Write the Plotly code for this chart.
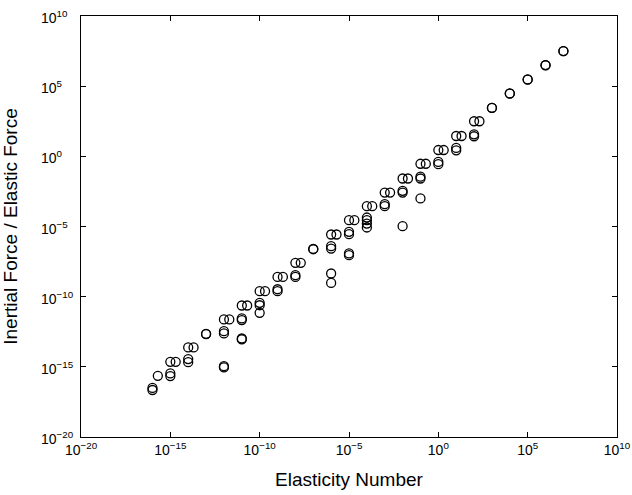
import plotly.graph_objects as go

# Exponents (log10)
x_exp = [
    -16, -16, -15.7,
    -15, -14.7, -15, -15,
    -14, -13.7, -14, -14,
    -13, -13,
    -12, -11.7, -12, -12, -12, -12,
    -11, -10.7, -11, -11, -11, -11,
    -10, -9.7, -10, -10, -10,
    -9, -8.7, -9, -9,
    -8, -7.7, -8, -8,
    -7, -7,
    -6, -5.7, -6, -6, -6, -6,
    -5, -4.7, -5, -5, -5, -5,
    -4, -3.7, -4, -4, -4, -4,
    -3, -2.7, -3, -3,
    -2, -1.7, -2, -2, -2,
    -1, -0.7, -1, -1, -1,
    0, 0.3, 0, 0,
    1, 1.3, 1, 1,
    2, 2.3, 2, 2,
    3, 3, 4, 4, 5, 5, 6, 6, 7, 7,
]
y_exp = [
    -16.5, -16.65, -15.64,
    -14.64, -14.64, -15.47, -15.66,
    -13.62, -13.62, -14.45, -14.67,
    -12.65, -12.67,
    -11.62, -11.62, -12.46, -12.62, -14.95, -15.04,
    -10.63, -10.63, -11.55, -11.67, -12.98, -13.05,
    -9.61, -9.61, -10.44, -10.61, -11.15,
    -8.59, -8.59, -9.47, -9.61,
    -7.59, -7.59, -8.47, -8.59,
    -6.60, -6.62,
    -5.57, -5.57, -6.40, -6.57, -8.35, -9.02,
    -4.55, -4.55, -5.38, -5.55, -6.92, -7.04,
    -3.55, -3.55, -4.36, -4.55, -4.79, -5.07,
    -2.58, -2.58, -3.41, -3.55,
    -1.58, -1.58, -2.46, -2.58, -4.98,
    -0.53, -0.53, -1.45, -1.58, -3.0,
    0.45, 0.45, -0.40, -0.56,
    1.45, 1.45, 0.60, 0.43,
    2.50, 2.50, 1.57, 1.43,
    3.45, 3.46, 4.47, 4.48, 5.47, 5.48, 6.49, 6.50, 7.49, 7.50,
]

tick_exps = [-20, -15, -10, -5, 0, 5, 10]
tick_text = ["10<sup>%s</sup>" % (str(e).replace("-", "\u2212")) for e in tick_exps]
tick_vals = [10.0 ** e for e in tick_exps]

x_vals = [10.0 ** v for v in x_exp]
y_vals = [10.0 ** v for v in y_exp]

W, H = 632, 495
ML, MR, MT, MB = 81, 15, 16, 58
PW = W - ML - MR

fig = go.Figure()
fig.add_trace(go.Scatter(
    x=x_vals, y=y_vals, mode="markers",
    marker=dict(symbol="circle-open", size=9, color="black",
                line=dict(width=1.3, color="black")),
    showlegend=False,
))

fam = "Liberation Sans, Arial, Helvetica, sans-serif"
font = dict(family=fam, size=14, color="black")
axis_common = dict(
    type="log", showgrid=False, zeroline=False,
    showline=True, linecolor="black", linewidth=1, mirror="allticks",
    ticks="inside", ticklen=5, tickwidth=1, tickcolor="black",
    tickvals=tick_vals, ticktext=tick_text, tickfont=font,
    range=[-20, 10],
)

# y tick labels: left-aligned like the original
annotations = []
for e, t in zip(tick_exps, tick_text):
    annotations.append(dict(
        x=(39 - ML) / PW, xref="paper", y=e, yref="y",
        text=t, showarrow=False, xanchor="left", yanchor="middle",
        font=font, yshift=-1,
    ))

fig.update_layout(
    width=W, height=H,
    margin=dict(l=ML, r=MR, t=MT, b=MB, autoexpand=False),
    paper_bgcolor="white", plot_bgcolor="white",
    font=font,
    xaxis=dict(axis_common,
               title=dict(text="Elasticity Number", font=dict(font, size=19), standoff=15)),
    yaxis=dict(axis_common, showticklabels=False,
               title=dict(text="Inertial Force / Elastic Force", font=dict(font, size=19), standoff=61)),
    annotations=annotations,
)
fig.write_html("out.html")
